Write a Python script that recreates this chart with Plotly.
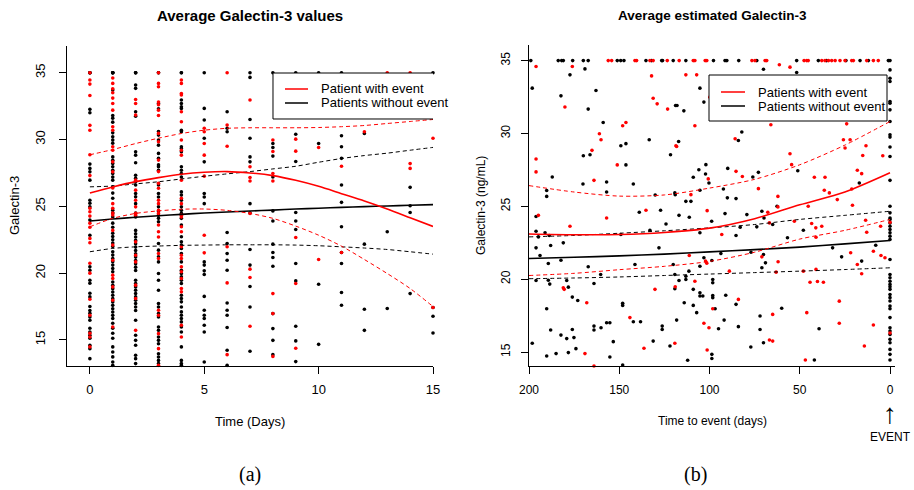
import plotly.graph_objects as go

W, H = 914, 490

# ---------------- panel (a): Average Galectin-3 values ----------------
a_days = list(range(16))
a_xticks = [0, 5, 10, 15]
a_yticks = [15, 20, 25, 30, 35]

a_event_by_day = [
    [35, 34.45, 34.15, 33.3, 31.06, 30.7, 28.86, 27.3, 24.86, 24.6, 24.27, 23.74, 23.44, 22.6, 22.27,
     20.74, 20.0, 18.05, 16.85, 15.5, 15.22, 14.48],
    [34.6, 34.2, 33.8, 33.5, 33.1, 32.7, 32.2, 30.96, 30.7, 29.46, 29.2, 28.33, 27.58, 26.37, 25.2,
     24.86, 24.5, 24.35, 23.2, 22.1, 20.97, 19.85, 19.6, 18.97, 17.97, 15.97],
    [33.0, 32.7, 31.83, 26.96, 26.21, 25.46, 24.96, 24.47, 24.34, 22.34, 21.34, 20.84, 19.1, 18.1, 15.72],
    [35, 34.2, 33.95, 32.8, 32.6, 32.2, 31.8, 30.46, 29.83, 28.46, 27.6, 26.72, 26.35, 25.46, 25.2,
     24.7, 24.47, 23.6, 23.1, 22.7, 21.47, 21.1, 17.22, 16.85, 15.47, 14.35, 13.1],
    [34.45, 34.2, 33.45, 33.33, 32.08, 31.33, 29.96, 29.2, 28.83, 26.96, 25.6, 25.2, 24.34, 24.2, 23.47,
     23.1, 21.97, 21.34, 21.1, 20.47, 20.1, 19.6, 18.85, 18.6, 16.1, 15.22],
    [30.84, 30.58, 29.7, 28.83, 27.26, 22.84, 21.52],
    [35, 31.08, 29.5, 21.97, 19.27, 13.9],
    [32.96, 27.96, 27.16, 26.9, 24.47, 20.3, 19.67, 16.03],
    [29.96, 29.1, 27.46, 26.9, 18.47, 16.97, 13.77],
    [30.03, 29.13, 22.67, 19.22, 14.38],
    [29.4, 21.02],
    [28.0, 21.55],
    [30.58],
    [35],
    [35, 28.2, 27.84],
    [30.1, 17.43],
]

a_noevent_by_day = [
    [35, 35, 35, 32.26, 32.0, 28.16, 27.84, 27.58, 26.96, 25.46, 25.23, 24.96, 23.97, 22.84, 20.47,
     20.22, 19.47, 19.24, 18.5, 18.22, 17.5, 17.2, 17.0, 16.72, 16.47, 15.88, 15.6, 15.35, 15.13,
     14.6, 14.35, 13.6],
    [35, 35, 35, 35, 33.7, 31.8, 31.6, 31.3, 30.5, 30.2, 29.96, 29.73, 28.7, 28.45, 28.2, 27.96, 27.7,
     27.45, 27.2, 26.96, 26.46, 25.99, 25.6, 24.2, 24.7, 24.5, 23.74, 23.44, 22.99, 22.74, 22.5,
     22.25, 21.99, 21.6, 21.35, 21.1, 20.85, 20.6, 20.35, 20.1, 19.34, 19.09, 18.84, 18.59, 18.34,
     18.09, 17.84, 17.59, 17.34, 17.09, 16.84, 16.6, 16.25, 15.87, 15.5, 15.13, 14.48, 14.1, 13.73,
     13.35, 13.1],
    [35, 35, 35, 34.08, 33.83, 32.08, 31.75, 29.08, 28.83, 28.26, 27.33, 27.1, 26.84, 26.6, 25.96,
     25.71, 25.2, 24.5, 24.2, 23.2, 22.95, 22.7, 22.45, 22.2, 21.95, 21.7, 21.45, 21.2, 20.95, 20.7,
     20.45, 20.2, 19.47, 19.22, 18.97, 18.72, 18.47, 18.22, 17.97, 17.72, 17.47, 17.2, 16.47, 15.35,
     14.97, 14.6, 13.85, 13.6, 13.23],
    [35, 35, 32.7, 32.3, 30.6, 30.33, 29.96, 29.58, 28.96, 28.6, 28.1, 27.96, 27.7, 26.6, 25.96, 25.7,
     24.96, 24.6, 24.34, 24.1, 23.85, 22.22, 21.72, 21.22, 20.84, 19.97, 19.47, 18.72, 17.72, 17.47,
     16.97, 16.72, 15.97, 15.72, 15.22, 14.97, 14.72, 13.97, 13.72, 13.47, 13.23],
    [35, 35, 32.96, 32.7, 32.45, 32.33, 30.7, 30.58, 29.46, 29.33, 29.08, 27.96, 27.7, 27.46, 27.2,
     26.08, 25.84, 25.46, 24.96, 24.7, 24.47, 24.1, 23.6, 22.72, 22.34, 22.1, 21.84, 21.47, 20.84,
     20.22, 19.97, 19.72, 19.47, 19.22, 18.35, 18.1, 17.85, 17.47, 17.1, 16.85, 16.6, 16.35, 15.97,
     15.6, 14.48, 13.47, 13.23, 13.1],
    [35, 32.33, 31.46, 30.1, 28.33, 25.96, 25.7, 25.2, 20.84, 20.6, 20.17, 19.9, 18.26, 17.22, 16.85,
     16.6, 16.1, 15.6, 13.35],
    [32.08, 30.84, 30.58, 23.04, 22.22, 21.47, 20.97, 20.22, 17.77, 17.22, 16.85, 15.93, 14.23, 13.1],
    [35, 34.65, 31.5, 30.1, 28.7, 28.33, 25.2, 24.5, 21.77, 20.6, 19.0, 17.47, 14.15],
    [35, 29.7, 29.4, 28.76, 27.2, 24.66, 23.9, 22.17, 21.55, 21.17, 20.52, 16.97, 15.85, 14.97, 13.9],
    [35, 30.4, 28.36, 24.54, 23.9, 23.27, 20.72, 19.42, 16.03, 14.93, 13.38],
    [35, 29.7, 19.17, 14.67],
    [35, 30.28, 29.46, 28.59, 26.6, 25.3, 23.47, 21.55, 20.72, 18.55, 17.6],
    [30.46, 22.17, 17.3, 15.72],
    [23.1, 17.35],
    [26.42, 25.04, 24.54, 18.47],
    [35, 17.43, 16.77, 15.52],
]

a_event_mean = [26.0, 26.45, 26.85, 27.15, 27.4, 27.55, 27.6, 27.5, 27.3, 26.95, 26.5, 25.95, 25.4, 24.8, 24.15, 23.5]
a_event_hi = [28.86, 29.25, 29.7, 30.1, 30.45, 30.7, 30.84, 30.88, 30.88, 30.88, 30.9, 30.96, 31.05, 31.2, 31.35, 31.5]
a_event_lo = [23.47, 24.1, 24.47, 24.66, 24.78, 24.8, 24.7, 24.47, 24.1, 23.52, 22.84, 22.02, 21.02, 19.97, 18.85, 17.5]
a_noevent_mean = [23.9, 24.05, 24.18, 24.3, 24.4, 24.5, 24.58, 24.65, 24.72, 24.8, 24.86, 24.92, 24.98, 25.03, 25.08, 25.13]
a_noevent_hi = [26.46, 26.52, 26.68, 26.84, 27.05, 27.25, 27.43, 27.6, 27.8, 28.0, 28.3, 28.58, 28.8, 28.98, 29.2, 29.41]
a_noevent_lo = [21.6, 21.85, 21.97, 22.03, 22.08, 22.1, 22.12, 22.12, 22.12, 22.1, 22.05, 21.97, 21.88, 21.77, 21.6, 21.42]

# ---------------- panel (b): Average estimated Galectin-3 ----------------
b_xticks = [200, 150, 100, 50, 0]
b_yticks = [15, 20, 25, 30, 35]

b_event_top_days = [156.1, 154.2, 141.3, 140.4, 133, 131.2, 123.4, 116.8, 109, 108.1, 102.4, 101.5, 76.5,
                    74.8, 69.2, 68.3, 47.6, 46.1, 45.3, 37.8, 36, 34.1, 32.3, 30.4, 27.7, 24.9, 21.2,
                    20.3, 12.9, 9.2, 6.5]
b_noevent_top_days = [199, 183.8, 181.9, 181, 175.8, 169.9, 167.2, 151.1, 149.2, 147.4, 135.2, 132.1,
                      126.5, 126, 120.1, 113.1, 97.8, 91.4, 90.4, 83.8, 73.8, 51.7, 39.7, 35.1, 24.4,
                      16.6, 12, 0.9, 0]
b_top_value = 35

b_event_pts = [
    (196.1, 34.59), (176, 34.59), (180.1, 31.81), (161, 29.98), (160.1, 29.57), (165.1, 28.84),
    (148.1, 30.53), (146.3, 30.75), (151.1, 27.84), (132.1, 33.95), (131.2, 32.42), (129, 32.03),
    (123.2, 31.67), (113.1, 34.02), (107.1, 34.02), (108.1, 30.53), (99.8, 32.49), (118.6, 29.16),
    (118.2, 29.1), (196.1, 28.25), (196.1, 27.36), (164, 26.78), (110.3, 25.8), (100.7, 26.88),
    (135.2, 24.73), (101.3, 24.7), (157, 24.2), (194.8, 24.38),
    (177.3, 23.63), (181, 19.41), (180.5, 19.3), (168, 18.38), (169, 14.89), (144.1, 17.36),
    (164, 14.04), (136.3, 15.26), (130.2, 19.3), (119.2, 15.6), (119, 19.48), (111.2, 21.62),
    (108.1, 19.86), (102.2, 21.24), (101.5, 21.1), (103.1, 16.97), (100.3, 16.67), (101.3, 15.14),
    (61.3, 34.71), (55.4, 34.55), (66, 30.6), (85.8, 29.64), (24, 30.66), (25.8, 29.57), (22.1, 29.57),
    (24.9, 29.0), (13.3, 29.16), (55.4, 28.61), (54.5, 27.86), (15.1, 28.49), (4, 28.47), (85.3, 27.4),
    (81.8, 27.05), (72.9, 26.21), (41.9, 26.99), (36, 26.99), (18.1, 27.47), (15.7, 27.24),
    (21.2, 26.19), (36.4, 26.1), (33.6, 25.92), (62.1, 25.68), (29.2, 25.46), (20.8, 25.07),
    (67.7, 24.59), (45.3, 25.0), (66.8, 23.86), (62.1, 24.96), (53, 23.97), (43.4, 23.82),
    (41.1, 23.52), (37.8, 23.63), (41, 22.88), (13.5, 24.04), (12.9, 23.22), (5.2, 23.63),
    (9.2, 21.92), (5, 21.62), (2.8, 21.47), (21.8, 21.81), (18.1, 21.01), (15.7, 20.37), (71, 21.53),
    (62, 21.19), (63.1, 20.48), (48, 20.55), (41, 20.67), (44.3, 19.79), (40.2, 19.84), (36.9, 19.79),
    (89, 20.55), (98.2, 17.97), (84, 18.61), (65, 17.58), (46.1, 17.7), (28.1, 18.49), (28.1, 16.97),
    (9.2, 16.85), (14.2, 15.41), (66.8, 15.82), (65, 15.75), (46.9, 14.45), (93.2, 23.06), (0, 23.9),
    (0, 16.3),
]

b_noevent_pts = [
    (198.2, 33.11), (177.3, 34.02), (169, 34.43), (182.3, 32.58), (162.9, 32.95), (167.2, 31.67),
    (158.9, 30.75), (169.9, 28.47), (166.2, 28.54), (149.1, 29.16), (146.3, 29.3), (146.3, 27.84),
    (133.4, 29.57), (118.8, 31.92), (118, 31.92), (114.2, 31.55), (105.3, 33.11), (103.1, 32.15),
    (121.6, 28.54), (117.1, 29.45), (187.1, 27.01), (170.1, 26.53), (157, 26.67), (142.2, 26.53),
    (190.2, 26.08), (190.2, 25.68), (157, 25.98), (130.1, 25.78), (119.2, 25.92), (119, 25.8),
    (105.3, 26.1), (105.9, 27.51), (109, 26.99), (102, 27.86), (100.3, 26.6), (113.1, 25.34),
    (110.3, 25.34), (138.9, 24.59), (127.1, 24.73), (116.9, 24.38), (111.2, 24.25), (196.1, 24.3),
    (196.1, 23.29), (194.8, 22.9), (196.1, 22.15), (193.9, 21.62), (191.1, 23.18), (188.8, 23.0),
    (188, 22.31), (181, 22.49), (124.1, 23.79), (133, 23.36), (128, 22.15), (149.1, 23.06),
    (105.3, 23.18), (189.3, 21.07), (182.3, 21.3), (167.2, 20.85), (160.3, 20.32), (196.1, 19.91),
    (189.3, 19.93), (188.5, 19.66), (179.1, 19.91), (178.2, 19.45), (176, 18.77), (173, 18.54),
    (164, 19.7), (190.2, 17.97), (188, 16.51), (182.3, 16.16), (179.1, 15.92), (175.1, 15.99),
    (176, 16.55), (174, 15.23), (198.2, 15.6), (190.2, 14.73), (185, 14.89), (178.2, 14.96),
    (164, 16.78), (164, 16.51), (160.1, 16.67), (157, 17.01), (155.2, 17.01), (153.3, 15.71),
    (155.2, 14.66), (148.1, 18.34), (148.1, 18.2), (142.2, 17.08), (138.2, 17.08), (148.1, 14.11),
    (131.2, 15.75), (141.3, 21.01), (126.2, 16.78), (126.2, 16.55), (121.9, 15.41), (118.2, 17.19),
    (120.1, 21.01), (119.2, 20.32), (119.2, 19.34), (114, 18.38), (116.9, 19.91), (113.1, 20.2),
    (113.1, 19.98), (111.4, 20.55), (109, 19.3), (109, 18.2), (107.1, 17.7), (105.3, 19.07),
    (105.3, 18.84), (105.3, 20.89), (103.1, 21.47), (112.1, 14.43),
    (70.1, 34.41), (51.7, 34.18), (82.1, 30.1), (84, 29.52), (51.1, 27.44), (89.9, 27.6),
    (102.2, 27.22), (76, 27.01), (72.9, 27.33), (92.3, 26.19), (90.1, 25.58), (17, 26.6), (62.6, 25.0),
    (85.3, 25.53), (91.4, 24.5), (79.3, 24.43), (71, 24.66),
    (98.8, 23.97), (69.8, 24.2), (65, 23.75), (83, 23.56), (85.3, 23.0), (73.8, 23.59), (48, 23.36),
    (56.8, 22.84), (7.9, 22.33), (31.8, 22.15), (26.8, 21.53), (15.7, 21.24), (70.1, 21.69),
    (69, 21.12), (71, 20.78), (77, 21.85), (93.7, 21.76), (98.7, 21.28), (98.2, 19.98), (98.2, 19.75),
    (98.2, 18.88), (98.2, 18.73), (103.7, 18.84), (91, 18.9), (96.9, 17.97), (91.9, 17.19), (95, 16.6),
    (85.3, 18.27), (84, 16.74), (72, 17.47), (72, 16.55), (60, 18.0), (39.3, 16.6), (98.7, 14.84),
    (98.7, 14.55), (77.1, 15.34), (70.1, 15.64), (41.9, 14.45),
]

b_event_day_values = [34.36, 33.79, 33.56, 32.19, 32.08, 31.62, 30.82, 29.91, 29.75, 29.07, 28.42, 26.78,
                      25.0, 24.55, 24.2, 24.09, 23.86, 23.63, 23.4, 23.18, 22.95, 22.72, 21.35, 20.32,
                      20.1, 19.86, 19.64, 19.48, 19.3, 18.95, 18.73, 18.5, 18.15, 17.97, 17.36, 16.67,
                      16.44, 16.21, 15.87, 15.64, 15.18, 14.84, 14.45]

b_curve_days = [200, 175, 150, 125, 100, 75, 50, 25, 0]
b_event_mean = [23.1, 23.05, 23.06, 23.2, 23.5, 24.15, 25.1, 25.98, 27.3]
b_event_hi = [26.42, 25.98, 25.7, 25.78, 26.25, 26.85, 27.85, 29.2, 30.82]
b_event_lo = [20.25, 20.4, 20.65, 20.88, 21.22, 21.85, 22.75, 23.35, 24.1]
b_noevent_mean = [21.42, 21.5, 21.6, 21.72, 21.87, 22.03, 22.2, 22.42, 22.65]
b_noevent_hi = [22.9, 23.0, 23.15, 23.32, 23.52, 23.75, 24.1, 24.38, 24.66]
b_noevent_lo = [20.03, 20.08, 20.15, 20.25, 20.35, 20.45, 20.55, 20.66, 20.78]

# ---------------- styling ----------------
RED = "#FF0000"
BLACK = "#000000"
FONT = "Liberation Sans, Arial, Helvetica, sans-serif"
SERIF = "Liberation Serif, DejaVu Serif, serif"
DASH = "4px,3px"


def px2x(px):
    return px / W


def py2y(py):
    return 1 - py / H


fig = go.Figure()

# ---- panel (a) points ----
a_ev_x = [d for d, vals in zip(a_days, a_event_by_day) for _ in vals]
a_ev_y = [v for vals in a_event_by_day for v in vals]
a_ne_x = [d for d, vals in zip(a_days, a_noevent_by_day) for _ in vals]
a_ne_y = [v for vals in a_noevent_by_day for v in vals]

mk = dict(size=3.6, line=dict(width=0))
fig.add_trace(go.Scatter(x=a_ne_x, y=a_ne_y, mode="markers", marker=dict(color=BLACK, **mk),
                         xaxis="x", yaxis="y", showlegend=False, cliponaxis=False))
fig.add_trace(go.Scatter(x=a_ev_x, y=a_ev_y, mode="markers", marker=dict(color=RED, **mk),
                         xaxis="x", yaxis="y", showlegend=False, cliponaxis=False))

for ys, col, w, dash in [
    (a_noevent_hi, BLACK, 1, DASH), (a_noevent_lo, BLACK, 1, DASH), (a_noevent_mean, BLACK, 1.6, "solid"),
    (a_event_hi, RED, 1, DASH), (a_event_lo, RED, 1, DASH), (a_event_mean, RED, 1.6, "solid"),
]:
    fig.add_trace(go.Scatter(x=a_days, y=ys, mode="lines", xaxis="x", yaxis="y", showlegend=False,
                             line=dict(color=col, width=w, dash=dash, shape="spline", smoothing=0.8)))

# ---- panel (b) points ----
b_ev_x = b_event_top_days + [p[0] for p in b_event_pts]
b_ev_y = [b_top_value] * len(b_event_top_days) + [p[1] for p in b_event_pts]
b_ne_x = b_noevent_top_days + [p[0] for p in b_noevent_pts] + [0] * len(b_event_day_values)
b_ne_y = [b_top_value] * len(b_noevent_top_days) + [p[1] for p in b_noevent_pts] + b_event_day_values

fig.add_trace(go.Scatter(x=b_ne_x, y=b_ne_y, mode="markers", marker=dict(color=BLACK, **mk),
                         xaxis="x2", yaxis="y2", showlegend=False, cliponaxis=False))
fig.add_trace(go.Scatter(x=b_ev_x, y=b_ev_y, mode="markers", marker=dict(color=RED, **mk),
                         xaxis="x2", yaxis="y2", showlegend=False, cliponaxis=False))

for ys, col, w, dash in [
    (b_noevent_hi, BLACK, 1, DASH), (b_noevent_lo, BLACK, 1, DASH), (b_noevent_mean, BLACK, 1.6, "solid"),
    (b_event_hi, RED, 1, DASH), (b_event_lo, RED, 1, DASH), (b_event_mean, RED, 1.6, "solid"),
]:
    fig.add_trace(go.Scatter(x=b_curve_days, y=ys, mode="lines", xaxis="x2", yaxis="y2", showlegend=False,
                             line=dict(color=col, width=w, dash=dash, shape="spline", smoothing=0.8)))


def axis_style(size):
    return dict(showline=True, linecolor=BLACK, linewidth=1, ticks="outside", ticklen=7,
                tickwidth=1, tickcolor=BLACK, showgrid=False, zeroline=False, automargin=False,
                tickfont=dict(family=FONT, size=size, color=BLACK), mirror=False)


fig.update_layout(
    width=W, height=H, margin=dict(l=0, r=0, t=0, b=0, pad=0, autoexpand=False),
    paper_bgcolor="white", plot_bgcolor="white", showlegend=False,
    xaxis=dict(domain=[px2x(67), px2x(433)], range=[-1.0, 15.0], tickvals=a_xticks,
               anchor="y", ticklabelstandoff=4, **axis_style(13)),
    yaxis=dict(domain=[py2y(366), py2y(46)], range=[13.05, 37.0], tickvals=a_yticks,
               anchor="x", tickangle=-90, ticklabelstandoff=9, **axis_style(13)),
    xaxis2=dict(domain=[px2x(529), px2x(895)], range=[200, -2.77], tickvals=b_xticks,
                anchor="y2", ticklabelstandoff=6, **axis_style(12)),
    yaxis2=dict(domain=[py2y(366), py2y(45)], range=[14.04, 36.07], tickvals=b_yticks,
                anchor="x2", tickangle=-90, ticklabelstandoff=6, **axis_style(12)),
)

ann = []


def text(px, py, s, size=13, bold=False, angle=0, xanchor="center", family=FONT):
    ann.append(dict(x=px2x(px), y=py2y(py), xref="paper", yref="paper", text=("<b>%s</b>" % s) if bold else s,
                    showarrow=False, xanchor=xanchor, yanchor="middle", textangle=angle,
                    font=dict(family=family, size=size, color=BLACK)))


text(250, 15, "Average Galectin-3 values", size=15, bold=True)
text(712, 15, "Average estimated Galectin-3", size=13.5, bold=True)
text(250, 421, "Time (Days)", size=13)
text(712, 421, "Time to event (days)", size=12)
text(15, 206, "Galectin-3", size=13, angle=-90)
text(481, 206, "Galectin-3 (ng/mL)", size=12, angle=-90)
text(890, 413, "↑", size=28, family="Liberation Sans, DejaVu Sans")
text(890, 437, "EVENT", size=12)
text(250, 474, "(a)", size=20, family=SERIF)
text(695, 474, "(b)", size=20, family=SERIF)
# legend texts
text(319, 89, "Patient with event", xanchor="left")
text(319, 103, "Patients without event", xanchor="left")
text(756, 92, "Patients with event", xanchor="left")
text(756, 106, "Patients without event", xanchor="left")

shapes = [
    # left legend (right side clipped by the plot region)
    dict(type="rect", xref="paper", yref="paper", x0=px2x(273), x1=px2x(433), y0=py2y(119), y1=py2y(73),
         fillcolor="white", line=dict(width=0), layer="above"),
    dict(type="path", xref="paper", yref="paper", layer="above", line=dict(color=BLACK, width=1),
         path="M %f %f L %f %f L %f %f L %f %f" % (px2x(433), py2y(73), px2x(273), py2y(73),
                                                   px2x(273), py2y(119), px2x(433), py2y(119))),
    dict(type="line", xref="paper", yref="paper", x0=px2x(285), x1=px2x(308), y0=py2y(89), y1=py2y(89),
         line=dict(color=RED, width=1.5), layer="above"),
    dict(type="line", xref="paper", yref="paper", x0=px2x(285), x1=px2x(308), y0=py2y(103), y1=py2y(103),
         line=dict(color=BLACK, width=1.5), layer="above"),
    # right legend
    dict(type="rect", xref="paper", yref="paper", x0=px2x(709), x1=px2x(887), y0=py2y(121), y1=py2y(75),
         fillcolor="white", line=dict(color=BLACK, width=1), layer="above"),
    dict(type="line", xref="paper", yref="paper", x0=px2x(721), x1=px2x(745), y0=py2y(92), y1=py2y(92),
         line=dict(color=RED, width=1.5), layer="above"),
    dict(type="line", xref="paper", yref="paper", x0=px2x(721), x1=px2x(745), y0=py2y(106), y1=py2y(106),
         line=dict(color=BLACK, width=1.5), layer="above"),
]

fig.update_layout(annotations=ann, shapes=shapes)
fig.write_html("out.html")
